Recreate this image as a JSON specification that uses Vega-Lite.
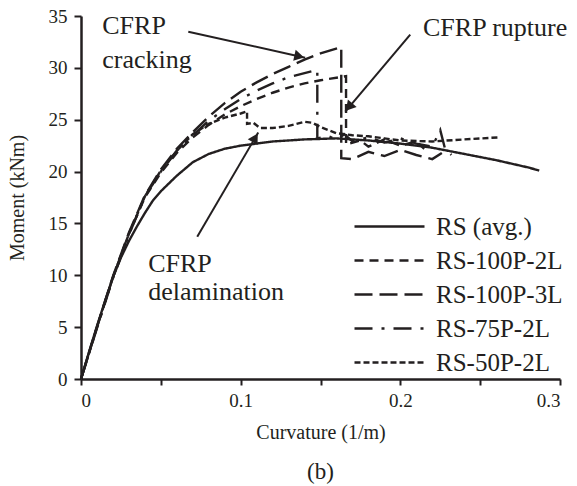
{
  "$schema": "https://vega.github.io/schema/vega-lite/v6.json",
  "width": 479,
  "height": 363,
  "autosize": {"type": "none"},
  "padding": {"left": 81, "top": 16, "right": 17, "bottom": 107},
  "background": "white",
  "title": {"text": "(b)", "orient": "bottom", "offset": 19, "font": "Liberation Serif", "fontSize": 23, "fontWeight": "normal", "color": "#231f20", "anchor": "middle"},
  "config": {
    "font": "Liberation Serif",
    "view": {"stroke": null},
    "text": {"font": "Liberation Serif"},
    "axis": {"grid": false, "domainColor": "#231f20", "domainWidth": 2.5, "tickColor": "#231f20", "tickWidth": 2, "tickSize": 6, "labelFont": "Liberation Serif", "labelFontSize": 19, "labelColor": "#231f20", "titleFont": "Liberation Serif", "titleFontSize": 20, "titleFontWeight": "normal", "titleColor": "#231f20"},
    "legend": {"labelFont": "Liberation Serif", "labelFontSize": 25, "labelColor": "#231f20"}
  },
  "datasets": {
    "curves": [
      {"series": "RS (avg.)", "k": 0, "m": 0},
      {"series": "RS (avg.)", "k": 0.005, "m": 2.6},
      {"series": "RS (avg.)", "k": 0.01, "m": 5.1},
      {"series": "RS (avg.)", "k": 0.015, "m": 7.5},
      {"series": "RS (avg.)", "k": 0.02, "m": 9.8},
      {"series": "RS (avg.)", "k": 0.025, "m": 11.7},
      {"series": "RS (avg.)", "k": 0.03, "m": 13.3},
      {"series": "RS (avg.)", "k": 0.035, "m": 14.7},
      {"series": "RS (avg.)", "k": 0.04, "m": 16.0},
      {"series": "RS (avg.)", "k": 0.045, "m": 17.2},
      {"series": "RS (avg.)", "k": 0.05, "m": 18.1},
      {"series": "RS (avg.)", "k": 0.06, "m": 19.6},
      {"series": "RS (avg.)", "k": 0.07, "m": 20.9},
      {"series": "RS (avg.)", "k": 0.08, "m": 21.7},
      {"series": "RS (avg.)", "k": 0.09, "m": 22.2},
      {"series": "RS (avg.)", "k": 0.1, "m": 22.5},
      {"series": "RS (avg.)", "k": 0.11, "m": 22.7},
      {"series": "RS (avg.)", "k": 0.12, "m": 22.9},
      {"series": "RS (avg.)", "k": 0.14, "m": 23.1},
      {"series": "RS (avg.)", "k": 0.16, "m": 23.2},
      {"series": "RS (avg.)", "k": 0.18, "m": 23.0},
      {"series": "RS (avg.)", "k": 0.2, "m": 22.7},
      {"series": "RS (avg.)", "k": 0.22, "m": 22.3},
      {"series": "RS (avg.)", "k": 0.24, "m": 21.7},
      {"series": "RS (avg.)", "k": 0.26, "m": 21.1},
      {"series": "RS (avg.)", "k": 0.28, "m": 20.4},
      {"series": "RS (avg.)", "k": 0.287, "m": 20.1},

      {"series": "RS-100P-2L", "k": 0, "m": 0},
      {"series": "RS-100P-2L", "k": 0.01, "m": 5.0},
      {"series": "RS-100P-2L", "k": 0.02, "m": 9.8},
      {"series": "RS-100P-2L", "k": 0.03, "m": 14.0},
      {"series": "RS-100P-2L", "k": 0.04, "m": 17.5},
      {"series": "RS-100P-2L", "k": 0.05, "m": 19.9},
      {"series": "RS-100P-2L", "k": 0.06, "m": 21.8},
      {"series": "RS-100P-2L", "k": 0.07, "m": 23.3},
      {"series": "RS-100P-2L", "k": 0.08, "m": 24.5},
      {"series": "RS-100P-2L", "k": 0.09, "m": 25.5},
      {"series": "RS-100P-2L", "k": 0.1, "m": 26.3},
      {"series": "RS-100P-2L", "k": 0.11, "m": 27.0},
      {"series": "RS-100P-2L", "k": 0.12, "m": 27.6},
      {"series": "RS-100P-2L", "k": 0.13, "m": 28.1},
      {"series": "RS-100P-2L", "k": 0.14, "m": 28.5},
      {"series": "RS-100P-2L", "k": 0.15, "m": 28.8},
      {"series": "RS-100P-2L", "k": 0.166, "m": 29.2},
      {"series": "RS-100P-2L", "k": 0.166, "m": 22.6},
      {"series": "RS-100P-2L", "k": 0.175, "m": 23.0},
      {"series": "RS-100P-2L", "k": 0.18, "m": 22.4},
      {"series": "RS-100P-2L", "k": 0.19, "m": 23.1},
      {"series": "RS-100P-2L", "k": 0.2, "m": 22.5},
      {"series": "RS-100P-2L", "k": 0.21, "m": 22.9},
      {"series": "RS-100P-2L", "k": 0.215, "m": 22.2},

      {"series": "RS-100P-3L", "k": 0, "m": 0},
      {"series": "RS-100P-3L", "k": 0.01, "m": 5.0},
      {"series": "RS-100P-3L", "k": 0.02, "m": 9.9},
      {"series": "RS-100P-3L", "k": 0.03, "m": 14.1},
      {"series": "RS-100P-3L", "k": 0.04, "m": 17.7},
      {"series": "RS-100P-3L", "k": 0.05, "m": 20.2},
      {"series": "RS-100P-3L", "k": 0.06, "m": 22.2},
      {"series": "RS-100P-3L", "k": 0.07, "m": 23.8},
      {"series": "RS-100P-3L", "k": 0.08, "m": 25.3},
      {"series": "RS-100P-3L", "k": 0.09, "m": 26.6},
      {"series": "RS-100P-3L", "k": 0.1, "m": 27.7},
      {"series": "RS-100P-3L", "k": 0.11, "m": 28.6},
      {"series": "RS-100P-3L", "k": 0.12, "m": 29.4},
      {"series": "RS-100P-3L", "k": 0.13, "m": 30.1},
      {"series": "RS-100P-3L", "k": 0.14, "m": 30.8},
      {"series": "RS-100P-3L", "k": 0.15, "m": 31.4},
      {"series": "RS-100P-3L", "k": 0.163, "m": 32.0},
      {"series": "RS-100P-3L", "k": 0.163, "m": 21.3},
      {"series": "RS-100P-3L", "k": 0.17, "m": 21.2},
      {"series": "RS-100P-3L", "k": 0.18, "m": 21.9},
      {"series": "RS-100P-3L", "k": 0.19, "m": 21.5},
      {"series": "RS-100P-3L", "k": 0.2, "m": 22.1},
      {"series": "RS-100P-3L", "k": 0.21, "m": 21.6},
      {"series": "RS-100P-3L", "k": 0.22, "m": 21.2},
      {"series": "RS-100P-3L", "k": 0.226, "m": 21.8},

      {"series": "RS-75P-2L", "k": 0, "m": 0},
      {"series": "RS-75P-2L", "k": 0.01, "m": 4.9},
      {"series": "RS-75P-2L", "k": 0.02, "m": 9.7},
      {"series": "RS-75P-2L", "k": 0.03, "m": 13.9},
      {"series": "RS-75P-2L", "k": 0.04, "m": 17.6},
      {"series": "RS-75P-2L", "k": 0.05, "m": 20.0},
      {"series": "RS-75P-2L", "k": 0.06, "m": 22.0},
      {"series": "RS-75P-2L", "k": 0.07, "m": 23.5},
      {"series": "RS-75P-2L", "k": 0.08, "m": 24.9},
      {"series": "RS-75P-2L", "k": 0.09, "m": 26.0},
      {"series": "RS-75P-2L", "k": 0.1, "m": 27.0},
      {"series": "RS-75P-2L", "k": 0.11, "m": 27.8},
      {"series": "RS-75P-2L", "k": 0.12, "m": 28.5},
      {"series": "RS-75P-2L", "k": 0.13, "m": 29.1},
      {"series": "RS-75P-2L", "k": 0.14, "m": 29.5},
      {"series": "RS-75P-2L", "k": 0.148, "m": 29.8},
      {"series": "RS-75P-2L", "k": 0.148, "m": 23.2},
      {"series": "RS-75P-2L", "k": 0.155, "m": 23.4},
      {"series": "RS-75P-2L", "k": 0.16, "m": 23.1},
      {"series": "RS-75P-2L", "k": 0.165, "m": 23.6},
      {"series": "RS-75P-2L", "k": 0.17, "m": 22.9},
      {"series": "RS-75P-2L", "k": 0.18, "m": 23.3},
      {"series": "RS-75P-2L", "k": 0.19, "m": 22.8},
      {"series": "RS-75P-2L", "k": 0.2, "m": 23.2},
      {"series": "RS-75P-2L", "k": 0.21, "m": 22.7},
      {"series": "RS-75P-2L", "k": 0.22, "m": 22.4},
      {"series": "RS-75P-2L", "k": 0.225, "m": 24.0},
      {"series": "RS-75P-2L", "k": 0.228, "m": 22.2},
      {"series": "RS-75P-2L", "k": 0.232, "m": 21.6},

      {"series": "RS-50P-2L", "k": 0, "m": 0},
      {"series": "RS-50P-2L", "k": 0.01, "m": 5.0},
      {"series": "RS-50P-2L", "k": 0.02, "m": 9.8},
      {"series": "RS-50P-2L", "k": 0.03, "m": 14.0},
      {"series": "RS-50P-2L", "k": 0.04, "m": 17.6},
      {"series": "RS-50P-2L", "k": 0.05, "m": 20.1},
      {"series": "RS-50P-2L", "k": 0.06, "m": 22.0},
      {"series": "RS-50P-2L", "k": 0.07, "m": 23.6},
      {"series": "RS-50P-2L", "k": 0.08, "m": 24.6},
      {"series": "RS-50P-2L", "k": 0.09, "m": 25.2},
      {"series": "RS-50P-2L", "k": 0.1, "m": 25.6},
      {"series": "RS-50P-2L", "k": 0.104, "m": 25.8},
      {"series": "RS-50P-2L", "k": 0.104, "m": 24.6},
      {"series": "RS-50P-2L", "k": 0.108, "m": 24.7},
      {"series": "RS-50P-2L", "k": 0.112, "m": 24.2},
      {"series": "RS-50P-2L", "k": 0.12, "m": 24.2},
      {"series": "RS-50P-2L", "k": 0.13, "m": 24.4},
      {"series": "RS-50P-2L", "k": 0.14, "m": 24.8},
      {"series": "RS-50P-2L", "k": 0.145, "m": 24.7},
      {"series": "RS-50P-2L", "k": 0.15, "m": 24.3},
      {"series": "RS-50P-2L", "k": 0.16, "m": 23.7},
      {"series": "RS-50P-2L", "k": 0.17, "m": 23.5},
      {"series": "RS-50P-2L", "k": 0.18, "m": 23.4},
      {"series": "RS-50P-2L", "k": 0.19, "m": 23.2},
      {"series": "RS-50P-2L", "k": 0.2, "m": 23.0},
      {"series": "RS-50P-2L", "k": 0.22, "m": 22.9},
      {"series": "RS-50P-2L", "k": 0.24, "m": 23.1},
      {"series": "RS-50P-2L", "k": 0.262, "m": 23.3}
    ],
    "notes": [
      {"label": "CFRP", "k": 0.0133, "m": 34.0},
      {"label": "cracking", "k": 0.0133, "m": 30.8},
      {"label": "CFRP rupture", "k": 0.2142, "m": 33.84},
      {"label": "CFRP", "k": 0.0421, "m": 11.12},
      {"label": "delamination", "k": 0.0421, "m": 8.42}
    ],
    "arrows": [
      {"name": "cracking", "k": 0.0672, "m": 33.49, "k2": 0.1404, "m2": 30.98, "hk": 0.1367, "hm": 31.11},
      {"name": "rupture", "k": 0.2062, "m": 33.2, "k2": 0.1655, "m2": 25.78, "hk": 0.1679, "hm": 26.22},
      {"name": "delamination", "k": 0.0728, "m": 13.72, "k2": 0.111, "m2": 23.76, "hk": 0.1091, "hm": 23.25}
    ]
  },
  "layer": [
    {
      "data": {"name": "curves"},
      "mark": {"type": "line", "color": "#231f20", "strokeWidth": 2.4},
      "encoding": {
        "x": {"field": "k", "type": "quantitative", "scale": {"domain": [0, 0.3]},
          "axis": {"title": "Curvature (1/m)", "values": [0, 0.05, 0.1, 0.15, 0.2, 0.25, 0.3], "labelExpr": "round(datum.value * 100) % 10 == 0 ? (datum.value == 0 ? '0' : format(datum.value, '.1f')) : ''", "labelPadding": 6, "titleY": 53, "titleBaseline": "middle"}},
        "y": {"field": "m", "type": "quantitative", "scale": {"domain": [0, 35]},
          "axis": {"title": "Moment (kNm)", "values": [0, 5, 10, 15, 20, 25, 30, 35], "tickSize": 7, "labelPadding": 7, "titleX": -64, "titleY": 181.5, "titleAngle": -90, "titleBaseline": "middle", "titleAlign": "center"}},
        "strokeDash": {"field": "series", "type": "nominal",
          "scale": {"domain": ["RS (avg.)", "RS-100P-2L", "RS-100P-3L", "RS-75P-2L", "RS-50P-2L"], "range": [[1, 0], [9, 6], [18, 7], [18, 9, 3, 9], [6, 3]]},
          "legend": {"title": null, "orient": "none", "legendX": 272, "legendY": 198, "symbolType": "stroke", "symbolSize": 4900, "symbolStrokeWidth": 2.5, "symbolStrokeColor": "#231f20", "clipHeight": 25, "rowPadding": 8, "labelOffset": 10, "padding": 0, "labelFont": "Liberation Serif"}}
      }
    },
    {
      "data": {"name": "arrows"},
      "mark": {"type": "rule", "color": "#231f20", "strokeWidth": 2},
      "encoding": {
        "x": {"field": "k", "type": "quantitative"},
        "y": {"field": "m", "type": "quantitative"},
        "x2": {"field": "k2"},
        "y2": {"field": "m2"}
      }
    },
    {
      "data": {"name": "arrows"},
      "transform": [{"filter": "datum.name == 'cracking'"}],
      "mark": {"type": "point", "shape": "triangle-up", "filled": true, "color": "#231f20", "opacity": 1, "size": 130, "angle": 102.5},
      "encoding": {"x": {"field": "hk", "type": "quantitative"}, "y": {"field": "hm", "type": "quantitative"}}
    },
    {
      "data": {"name": "arrows"},
      "transform": [{"filter": "datum.name == 'rupture'"}],
      "mark": {"type": "point", "shape": "triangle-up", "filled": true, "color": "#231f20", "opacity": 1, "size": 130, "angle": 220},
      "encoding": {"x": {"field": "hk", "type": "quantitative"}, "y": {"field": "hm", "type": "quantitative"}}
    },
    {
      "data": {"name": "arrows"},
      "transform": [{"filter": "datum.name == 'delamination'"}],
      "mark": {"type": "point", "shape": "triangle-up", "filled": true, "color": "#231f20", "opacity": 1, "size": 130, "angle": 30.4},
      "encoding": {"x": {"field": "hk", "type": "quantitative"}, "y": {"field": "hm", "type": "quantitative"}}
    },
    {
      "data": {"name": "notes"},
      "mark": {"type": "text", "align": "left", "baseline": "middle", "font": "Liberation Serif", "fontSize": 26, "color": "#231f20"},
      "encoding": {
        "x": {"field": "k", "type": "quantitative"},
        "y": {"field": "m", "type": "quantitative"},
        "text": {"field": "label"}
      }
    }
  ]
}
